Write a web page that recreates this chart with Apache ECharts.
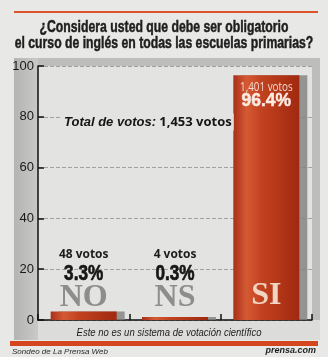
<!DOCTYPE html>
<html>
<head>
<meta charset="utf-8">
<script src="https://cdn.jsdelivr.net/npm/echarts@6/dist/echarts.min.js"></script>
<style>
  html, body { margin: 0; padding: 0; background: #e8e8e6; }
  #chart { width: 328px; height: 357px; }
</style>
</head>
<body>
<div id="chart"></div>
<script>
// Poll answers and results
const categories = ['NO', 'NS', 'SI'];
const percents = [3.3, 0.3, 96.4];
const votes = ['48', '4', '1,401'];
const totalVotes = '1,453';
const yTicks = [0, 20, 40, 60, 80, 100];

const titleLines = [
  '¿Considera usted que debe ser obligatorio',
  'el curso de inglés en todas las escuelas primarias?'
];
const footnote = 'Este no es un sistema de votación científico';
const sourceText = 'Sondeo de La Prensa Web';
const siteText = 'prensa.com';

const heavy = '"Liberation Sans", Arial, sans-serif';
const sans = '"Open Sans", "Liberation Sans", sans-serif';
const serif = '"Liberation Serif", "DejaVu Serif", serif';

const barFill = new echarts.graphic.LinearGradient(0, 0, 1, 0, [
  { offset: 0, color: '#a8301a' },
  { offset: 0.2, color: '#d55a34' },
  { offset: 0.42, color: '#c2421f' },
  { offset: 1, color: '#a0290f' }
]);

const chart = echarts.init(document.getElementById('chart'), null, { renderer: 'canvas' });

function txt(x, y, text, style, sx) {
  return {
    type: 'text', x: x, y: y, scaleX: sx || 1,
    style: Object.assign({ text: text, align: 'center', verticalAlign: 'middle' }, style)
  };
}

// Result texts: drawn from the axis coordinates of each answer
function renderResult(params, api) {
  const i = api.value(0);
  const v = api.value(1);
  const base = api.coord([i, 0]);
  const top = api.coord([i, v]);
  const x = base[0];
  const last = i === categories.length - 1;
  if (!last) {
    return {
      type: 'group',
      children: [
        txt(x, base[1] - 66, votes[i] + ' votos', { fontFamily: sans, fontSize: 13, fontWeight: 'bold', fill: '#1c1c1c' }, 0.92),
        txt(x, base[1] - 46, percents[i] + '%', { fontFamily: heavy, fontSize: 22, fontWeight: 'bold', fill: '#161616', stroke: '#161616', lineWidth: 0.7 }, 0.78),
        txt(x, base[1] - 22, categories[i], { fontFamily: serif, fontSize: 32, fontWeight: 'bold', fill: '#8d8d8b' }, 1)
      ]
    };
  }
  return {
    type: 'group',
    children: [
      txt(x, top[1] + 12, votes[i] + ' votos', { fontFamily: sans, fontSize: 12, fill: '#f4dccf' }, 0.82),
      txt(x, top[1] + 26, percents[i] + '%', { fontFamily: heavy, fontSize: 19, fontWeight: 'bold', fill: '#fbeae2', stroke: '#fbeae2', lineWidth: 0.5 }, 0.92),
      txt(x, base[1] - 24, categories[i], { fontFamily: serif, fontSize: 32, fontWeight: 'bold', fill: '#f1d4c4' }, 1)
    ]
  };
}

const titleStyle = { fontFamily: heavy, fontSize: 17, fontWeight: 'bold', fill: '#1e1e1e', stroke: '#1e1e1e', lineWidth: 0.5 };

const option = {
  backgroundColor: '#e8e8e6',
  animation: false,
  grid: { left: 38, right: 16, top: 66, bottom: 37 },
  graphic: [
    // top rule
    { type: 'rect', shape: { x: 14, y: 11, width: 304, height: 2 }, style: { fill: '#d9542a' }, z: -10 },
    // title
    txt(164, 27, titleLines[0], titleStyle, 0.72),
    txt(164, 43, titleLines[1], titleStyle, 0.72),
    // framed panel behind the plot
    { type: 'rect', shape: { x: 14, y: 58, width: 306, height: 282 }, style: { fill: '#bdbdbb' }, z: -10 },
    { type: 'rect', shape: { x: 14, y: 58, width: 24, height: 282 },
      style: { fill: new echarts.graphic.LinearGradient(0, 0, 1, 0, [{ offset: 0, color: '#b4b4b2' }, { offset: 1, color: '#c9c9c7' }]) }, z: -9 },
    { type: 'rect', shape: { x: 38, y: 66, width: 274, height: 254 }, style: { fill: '#e3e3e1' }, z: -9 },
    { type: 'rect', shape: { x: 38, y: 320, width: 282, height: 20 }, style: { fill: '#dcdcda' }, z: -9 },
    // footnote inside panel
    txt(169, 333, footnote, { fontFamily: '"Liberation Sans", sans-serif', fontSize: 10, fontStyle: 'italic', fill: '#1e1e1e' }, 0.95),
    // bottom rule
    { type: 'rect', shape: { x: 10, y: 341, width: 308, height: 5 }, style: { fill: '#d4461f' }, z: -8 },
    { type: 'text', x: 12, y: 352, style: { text: sourceText, fontFamily: '"Liberation Sans", sans-serif', fontSize: 8, fontStyle: 'italic', fill: '#2a2a2a', verticalAlign: 'middle' } },
    { type: 'text', x: 316, y: 351, style: { text: siteText, fontFamily: '"Liberation Sans", sans-serif', fontSize: 9, fontStyle: 'italic', fontWeight: 'bold', fill: '#1e1e1e', align: 'right', verticalAlign: 'middle' } },
    // total votes
    { type: 'text', x: 61, y: 122, z: 10,
      style: {
        text: '{a|Total de votos:} {b|' + totalVotes + ' votos}',
        backgroundColor: '#e3e3e1', padding: [2, 2, 2, 3],
        verticalAlign: 'middle',
        rich: {
          a: { fontFamily: '"Liberation Sans", sans-serif', fontSize: 13, fontStyle: 'italic', fontWeight: 'bold', fill: '#151515' },
          b: { fontFamily: sans, fontSize: 13, fontWeight: 'bold', fill: '#151515' }
        }
      } }
  ],
  xAxis: {
    type: 'category',
    data: categories,
    boundaryGap: true,
    axisLine: { lineStyle: { color: '#111', width: 1.5 } },
    axisTick: { show: true, inside: true, length: 6, lineStyle: { color: '#111', width: 1.5 } },
    axisLabel: { show: false },
    splitLine: { show: false }
  },
  yAxis: {
    type: 'value',
    min: yTicks[0],
    max: yTicks[yTicks.length - 1],
    interval: yTicks[1] - yTicks[0],
    axisLine: { show: true, lineStyle: { color: '#111', width: 1.5 } },
    axisTick: { show: true, inside: true, length: 6, lineStyle: { color: '#111', width: 1.5 } },
    axisLabel: { color: '#1a1a1a', fontFamily: '"Liberation Sans", sans-serif', fontSize: 13, margin: 4 },
    splitLine: { show: true, lineStyle: { color: '#a2a2a0', width: 1, type: [4, 2] } }
  },
  series: [
    {
      type: 'bar',
      data: percents,
      barWidth: 66,
      barMinHeight: 3,
      itemStyle: {
        color: barFill,
        shadowColor: 'rgba(128,128,126,0.8)',
        shadowOffsetX: 8,
        shadowOffsetY: 0,
        shadowBlur: 0
      },
      z: 3
    },
    {
      type: 'custom',
      data: percents.map((p, i) => [i, p]),
      renderItem: renderResult,
      clip: false,
      silent: true,
      z: 5
    }
  ]
};

chart.setOption(option);
</script>
</body>
</html>
